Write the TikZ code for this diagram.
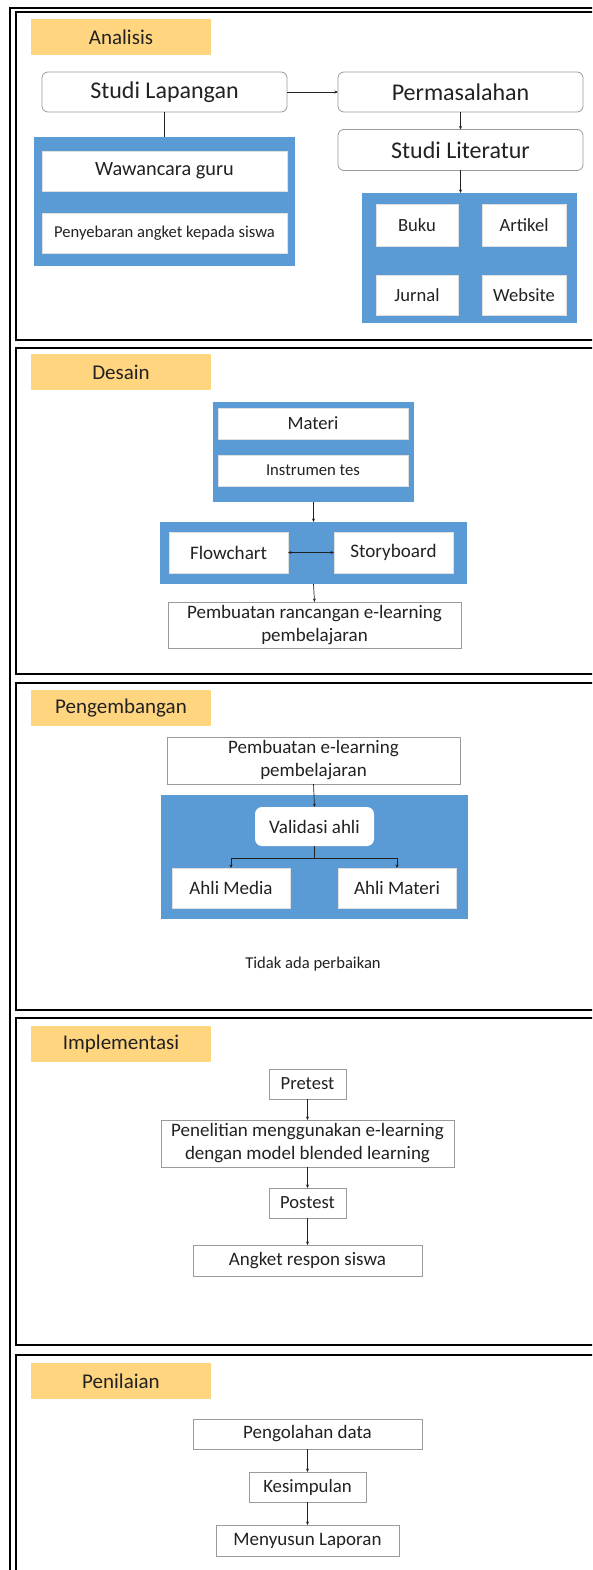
\documentclass[tikz,border=0pt]{standalone}
\usepackage{fontspec}
\setmainfont{Carlito}
\usetikzlibrary{arrows.meta}
\definecolor{bluebg}{HTML}{5B9BD5}
\definecolor{labfill}{HTML}{FFD580}
\definecolor{txt}{HTML}{222222}
\definecolor{greyline}{HTML}{9A9A9A}
\begin{document}
\begin{tikzpicture}[x=1pt,y=-1pt,
  every node/.style={inner sep=0pt, outer sep=0pt, text=txt, align=center},
  lab/.style={fill=labfill, minimum width=180pt, minimum height=36pt, font=\fontsize{21}{25}\selectfont},
  rbox/.style={draw=greyline, line width=0.8pt, fill=white, rounded corners=6pt, minimum width=245pt, minimum height=40pt, font=\fontsize{24}{28}\selectfont},
  bluebox/.style={fill=bluebg},
  wbox/.style={fill=white, draw=white!88!black, line width=0.4pt},
  gbox/.style={draw=greyline, line width=0.8pt, fill=white, font=\fontsize{19}{23}\selectfont},
  sect/.style={draw=black, line width=2pt},
  conn/.style={draw=txt, line width=0.7pt},
  arr/.style={conn, -{Stealth[length=3.5pt,width=3pt]}},
  darr/.style={conn, {Stealth[length=3.5pt,width=3pt]}-{Stealth[length=3.5pt,width=3pt]}},
]
\useasboundingbox (0,0) rectangle (592,1570);
\clip (0,0) rectangle (592,1570);
\fill[white] (0,0) rectangle (592,1570);

% outer frame and sections
\draw[line width=1.5pt] (10,1600) -- (10,8) -- (640,8);
\draw[sect] (16,12.5) rectangle (640,340);
\draw[sect] (16,348) rectangle (640,674);
\draw[sect] (16,683) rectangle (640,1010);
\draw[sect] (16,1018) rectangle (640,1345);
\draw[sect] (16,1355) rectangle (640,1620);

% ---------- Analisis ----------
\node[lab] (lab1) at (121,37) {Analisis};
\node[rbox] (sl) at (164.5,92) {Studi Lapangan};
\node[bluebox, minimum width=261pt, minimum height=129pt] (blueL) at (164.5,201.5) {};
\node[wbox, minimum width=245pt, minimum height=40pt, font=\fontsize{20.3}{24}\selectfont] (waw) at (164.5,171) {Wawancara guru};
\node[wbox, minimum width=245pt, minimum height=40pt, font=\fontsize{16.6}{20}\selectfont] (peny) at (164.5,233) {Penyebaran angket kepada siswa};
\node[rbox] (perm) at (460.5,92) {Permasalahan};
\node[rbox, minimum height=41pt] (slit) at (460.5,150) {Studi Literatur};
\node[bluebox, minimum width=215pt, minimum height=130pt] (blueR) at (469.5,258) {};
\node[wbox, minimum width=82pt, minimum height=42pt, font=\fontsize{18.6}{22}\selectfont] (buku) at (417,225) {Buku};
\node[wbox, minimum width=84pt, minimum height=42pt, font=\fontsize{18.6}{22}\selectfont] (artikel) at (524,225) {Artikel};
\node[wbox, minimum width=82pt, minimum height=40pt, font=\fontsize{18.6}{22}\selectfont] (jurnal) at (417,295) {Jurnal};
\node[wbox, minimum width=84pt, minimum height=40pt, font=\fontsize{18.6}{22}\selectfont] (website) at (524,295) {Website};
\draw[conn] (sl.south) -- (blueL.north);
\draw[arr] (sl.east) -- (perm.west);
\draw[arr] (perm.south) -- (slit.north);
\draw[arr] (slit.south) -- (slit.south |- blueR.north);

% ---------- Desain ----------
\node[lab] (lab2) at (121,372) {Desain};
\node[bluebox, minimum width=201pt, minimum height=100pt] (blue1) at (313.5,452) {};
\node[wbox, minimum width=190pt, minimum height=31pt, font=\fontsize{18.7}{22}\selectfont] (materi) at (313,423.5) {Materi};
\node[wbox, minimum width=190pt, minimum height=31pt, font=\fontsize{16.7}{20}\selectfont] (instr) at (313,470.5) {Instrumen tes};
\node[bluebox, minimum width=307pt, minimum height=62pt] (blue2) at (313.5,553) {};
\node[wbox, minimum width=119pt, minimum height=41pt, font=\fontsize{19.1}{23}\selectfont] (flow) at (228.5,552.5) {Flowchart};
\node[wbox, minimum width=119pt, minimum height=41pt, font=\fontsize{19.1}{23}\selectfont] (story) at (393.5,552.5) {Storyboard};
\node[gbox, minimum width=293pt, minimum height=46pt] (pr) at (314.5,625) {Pembuatan rancangan e-learning\\pembelajaran};
\draw[arr] (blue1.south) -- (blue2.north);
\draw[darr] (flow.east) -- (story.west);
\draw[arr] (blue2.south) -- (pr.north);

% ---------- Pengembangan ----------
\node[lab] (lab3) at (121,708) {Pengembangan};
\node[gbox, minimum width=293pt, minimum height=47pt] (pe) at (313.5,760.5) {Pembuatan e-learning\\pembelajaran};
\node[bluebox, minimum width=307pt, minimum height=124pt] (blue3) at (314.5,857) {};
\node[fill=white, rounded corners=7pt, minimum width=119pt, minimum height=39pt, font=\fontsize{19}{23}\selectfont] (val) at (314.5,826.5) {Validasi ahli};
\node[wbox, minimum width=118pt, minimum height=40pt, font=\fontsize{19}{23}\selectfont] (media) at (231,888) {Ahli Media};
\node[wbox, minimum width=118pt, minimum height=40pt, font=\fontsize{19}{23}\selectfont] (amateri) at (397,888) {Ahli Materi};
\node[font=\fontsize{16.6}{20}\selectfont] (tidak) at (313,964) {Tidak ada perbaikan};
\draw[arr] (pe.south) -- (val.north);
\path (val.south) ++(0,12) coordinate (vj);
\draw[conn] (val.south) -- (vj);
\draw[arr] (vj) -| (media.north);
\draw[arr] (vj) -| (amateri.north);

% ---------- Implementasi ----------
\node[lab] (lab4) at (121,1044) {Implementasi};
\node[gbox, minimum width=77pt, minimum height=30pt, font=\fontsize{18.6}{22}\selectfont] (pretest) at (307.5,1084) {Pretest};
\node[gbox, minimum width=293pt, minimum height=47pt] (pen) at (307.5,1143.5) {Penelitian menggunakan e-learning\\dengan model blended learning};
\node[gbox, minimum width=77pt, minimum height=30pt, font=\fontsize{18.6}{22}\selectfont] (post) at (307.5,1203) {Postest};
\node[gbox, minimum width=229pt, minimum height=31pt] (angket) at (307.5,1260.5) {Angket respon siswa};
\draw[arr] (pretest.south) -- (pen.north);
\draw[arr] (pen.south) -- (post.north);
\draw[arr] (post.south) -- (angket.north);

% ---------- Penilaian ----------
\node[lab] (lab5) at (121,1381) {Penilaian};
\node[gbox, minimum width=229pt, minimum height=30pt] (olah) at (307.5,1434) {Pengolahan data};
\node[gbox, minimum width=117pt, minimum height=30pt, font=\fontsize{18.8}{22}\selectfont] (kes) at (307.5,1487) {Kesimpulan};
\node[gbox, minimum width=183pt, minimum height=31pt] (lap) at (307.5,1540.5) {Menyusun Laporan};
\draw[arr] (olah.south) -- (kes.north);
\draw[arr] (kes.south) -- (lap.north);
\end{tikzpicture}
\end{document}
